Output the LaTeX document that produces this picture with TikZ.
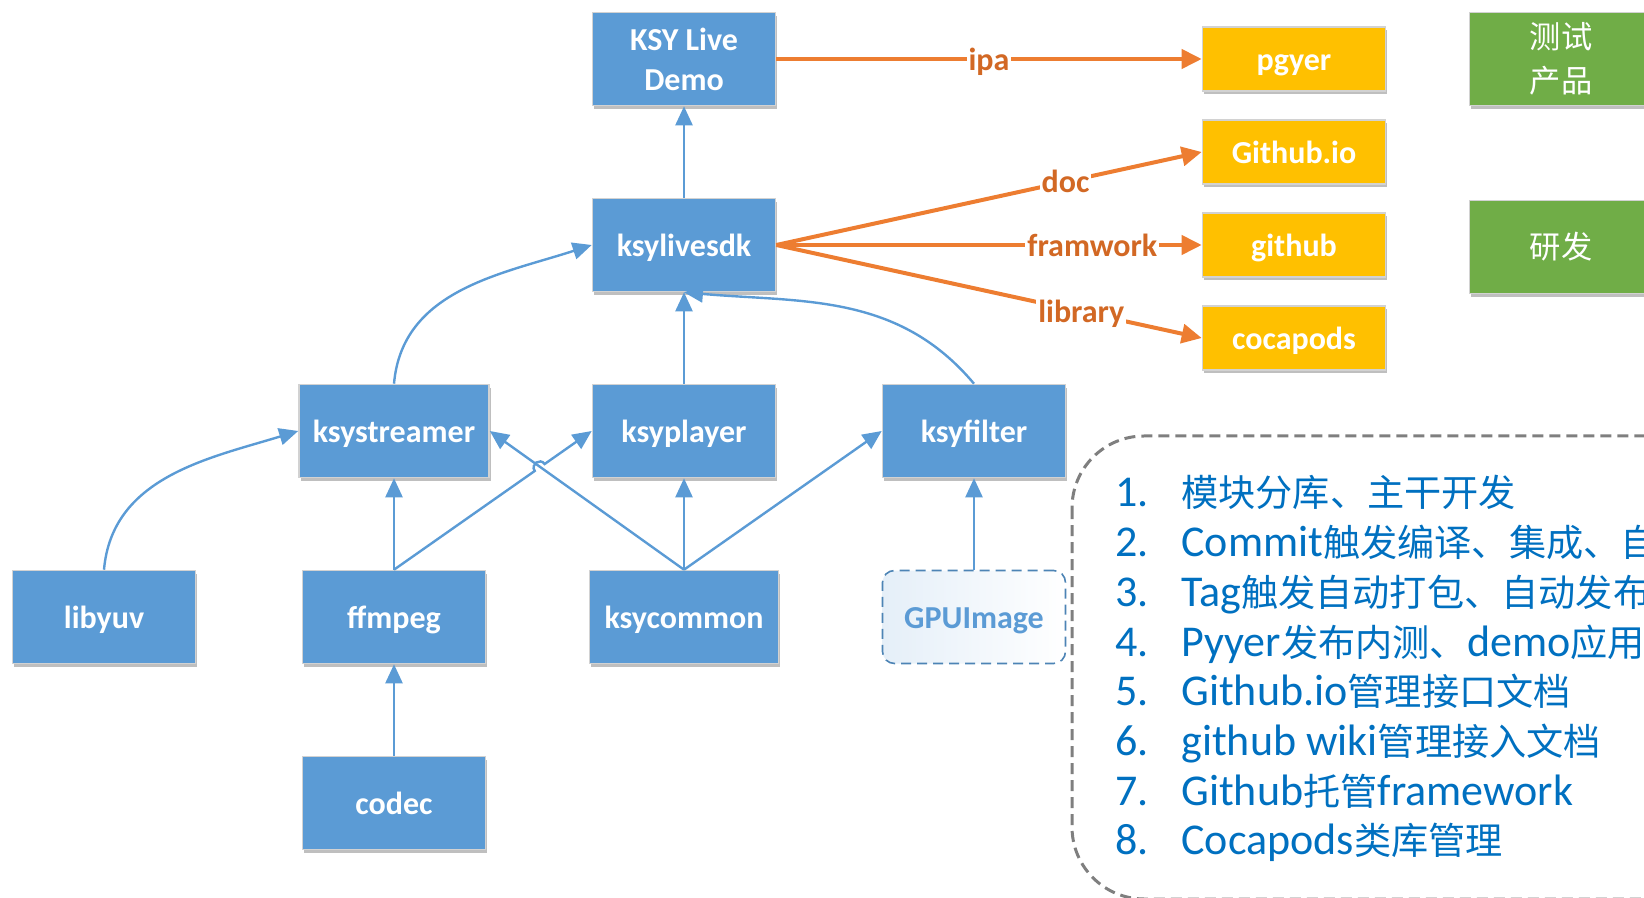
\documentclass[tikz,border=0pt]{standalone}
\usepackage{fontspec}
\setmainfont{Carlito}
\newfontfamily\cjk[Scale=0.845]{Noto Sans CJK SC}
\usepackage{tikz}
\usetikzlibrary{positioning,arrows.meta,shadows,calc}
\definecolor{ksyblue}{HTML}{5B9BD5}
\definecolor{ksyorange}{HTML}{ED7D31}
\definecolor{ksytag}{RGB}{210,104,36}
\definecolor{ksygold}{HTML}{FFC000}
\definecolor{ksygreen}{HTML}{70AD47}
\definecolor{ksylist}{HTML}{0070C0}
\definecolor{ksygray}{HTML}{7F7F7F}

\begin{document}
\begin{tikzpicture}[x=0.5pt,y=0.5pt,node distance=93pt and 145pt,on grid,
    box/.style={draw=gray!35,line width=0.8pt,fill=ksyblue,text=white,font=\bfseries\fontsize{16}{20}\selectfont,minimum width=91.5pt,minimum height=46.5pt,inner sep=0pt,align=center,drop shadow={shadow xshift=0.8pt,shadow yshift=-1.6pt,opacity=0.25,fill=black}},
    module/.style={box,text height=13.6pt,text depth=2.4pt},
    target/.style={module,fill=ksygold,minimum height=32pt},
    stage/.style={box,fill=ksygreen,font=\cjk\fontsize{18.5}{22}\selectfont},
    gpu/.style={draw=ksyblue!85!black,dash pattern=on 5pt off 3pt,line width=0.8pt,rounded corners=6pt,left color=ksyblue!16,right color=white,text=ksyblue,font=\bfseries\fontsize{16}{20}\selectfont,minimum width=91.5pt,minimum height=46.5pt,inner sep=0pt,text height=13.6pt,text depth=2.4pt},
    dep/.style={ksyblue,line width=1.2pt,-{Triangle[length=9.5pt,width=8.5pt]}},
    pub/.style={ksyorange,line width=2pt,-{Triangle[length=10pt,width=9.5pt]}},
    tag/.style={fill=white,inner sep=1pt,text=ksytag,font=\bfseries\fontsize{16}{18}\selectfont,text height=12.6pt,text depth=1.4pt},
    frame/.style={draw=ksygray,dash pattern=on 5.5pt off 3pt,line width=1.5pt,rounded corners=36pt},
    item/.style={anchor=base west,inner sep=0pt,text=ksylist,font=\fontsize{22}{26}\selectfont}] %
  \useasboundingbox (0,0) rectangle (1644,-898);
  \clip (0,0) rectangle (1644,-898);
  % modules
  \node[module] (sdk) at (684,-245) {ksylivesdk}; %
  \node[box, above=of sdk] (demo) {KSY Live\\Demo}; %
  \node[module, below=of sdk] (player) {ksyplayer}; %
  \node[module, left=of player, minimum width=95pt] (streamer) {ksystreamer};
  \node[module, right=of player] (filter) {ksyfilter};
  \node[module, below=of player, minimum width=94.5pt] (common) {ksycommon};
  \node[module, below=of streamer] (ffmpeg) {ffmpeg};
  \node[module, left=of ffmpeg] (libyuv) {libyuv};
  \node[module, below=of ffmpeg] (codec) {codec};
  \node[gpu, below=of filter] (gpuimage) {GPUImage};
  % publishing targets
  \node[target, right=305pt of sdk] (github) {github};
  \node[target, above=46.5pt of github] (gio) {Github.io};
  \node[target, above=46.5pt of gio] (pgyer) {pgyer};
  \node[target, below=46.5pt of github] (cocapods) {cocapods};
  \node[stage, right=133.5pt of pgyer] (test) {测试\\产品};
  \node[stage, right=133.5pt of github, yshift=-1pt] (dev) {研发};
  % dependencies
  \draw[dep] (sdk.north) -- (demo.south);
  \draw[dep] (streamer.north) to[out=85,in=198] (sdk.west);
  \draw[dep] (player.north) -- (sdk.south);
  \draw[dep] (filter.north) to[out=130,in=-5] (sdk.south);
  \draw[dep] (libyuv.north) to[out=85,in=197] (streamer.west);
  \draw[dep] (ffmpeg.north) -- (streamer.south);
  \coordinate (hopa) at ($(ffmpeg.north)!0.712!(player.west)$);
  \coordinate (hopb) at ($(ffmpeg.north)!0.762!(player.west)$);
  \draw[dep] (ffmpeg.north) -- (hopa) to[bend left=90,looseness=1.7] (hopb) -- (player.west);
  \draw[dep] (common.north) -- (streamer.east);
  \draw[dep] (common.north) -- (player.south);
  \draw[dep] (common.north) -- (filter.west);
  \draw[dep] (gpuimage.north) -- (filter.south);
  \draw[dep] (codec.north) -- (ffmpeg.south);
  % publishing
  \draw[pub] (demo.east) -- node[tag] {ipa} (pgyer.west);
  \draw[pub] (sdk.east) -- node[tag, pos=0.68] {doc} (gio.west);
  \draw[pub] (sdk.east) -- node[tag, pos=0.743] {framwork} (github.west);
  \draw[pub] (sdk.east) -- node[tag, pos=0.717] {library} (cocapods.west);
  % process notes
  \draw[frame] (1072,-436) rectangle (1760,-899);
  \node[item] (step1) at (1115,-507) {\makebox[33pt][l]{1.}{\cjk 模块分库、主干开发}};
  \node[item] (step2) at (1115,-556.7) {\makebox[33pt][l]{2.}Commit{\cjk 触发编译、集成、自}};
  \node[item] (step3) at (1115,-606.4) {\makebox[33pt][l]{3.}Tag{\cjk 触发自动打包、自动发布}};
  \node[item] (step4) at (1115,-656.1) {\makebox[33pt][l]{4.}Pyyer{\cjk 发布内测、}demo{\cjk 应用}};
  \node[item] (step5) at (1115,-705.8) {\makebox[33pt][l]{5.}Github.io{\cjk 管理接口文档}};
  \node[item] (step6) at (1115,-755.5) {\makebox[33pt][l]{6.}github wiki{\cjk 管理接入文档}};
  \node[item] (step7) at (1115,-805.2) {\makebox[33pt][l]{7.}Github{\cjk 托管}framework};
  \node[item] (step8) at (1115,-854.9) {\makebox[33pt][l]{8.}Cocapods{\cjk 类库管理}};
\end{tikzpicture}
\end{document}
